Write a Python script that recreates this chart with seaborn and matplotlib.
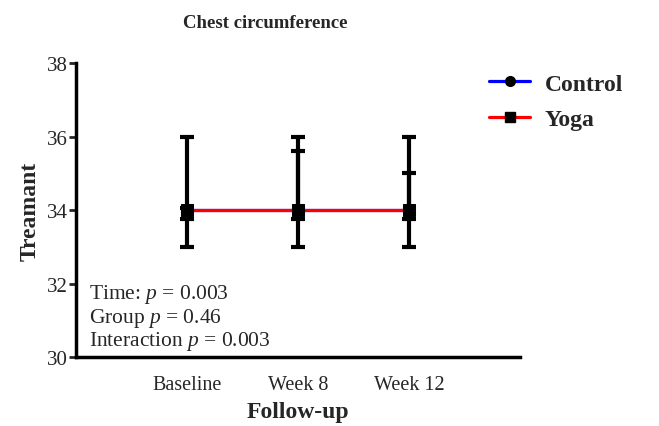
import matplotlib
matplotlib.use("Agg")
import matplotlib.pyplot as plt
import seaborn as sns
import pandas as pd
import numpy as np
from matplotlib.lines import Line2D

categories = ["Baseline", "Week 8", "Week 12"]
control_mean = [34.0, 34.0, 34.0]
control_low = [33.0, 33.0, 33.0]
control_high = [36.0, 36.0, 36.0]
yoga_mean = [34.0, 34.0, 34.0]
yoga_low = [33.75, 33.75, 33.75]
yoga_high = [34.05, 35.6, 35.0]
y_ticks = [30, 32, 34, 36, 38]
annotations = ["Time: $p$ = 0.003", "Group $p$ = 0.46", "Interaction $p$ = 0.003"]

sns.set_style("white")
plt.rcParams["font.family"] = ["Liberation Serif", "DejaVu Serif"]
plt.rcParams["mathtext.fontset"] = "custom"
plt.rcParams["mathtext.rm"] = "Liberation Serif"
plt.rcParams["mathtext.it"] = "Liberation Serif:italic"

pos = list(range(len(categories)))
df = pd.DataFrame({
    "pos": pos * 2,
    "mean": control_mean + yoga_mean,
    "group": ["Control"] * 3 + ["Yoga"] * 3,
})

fig = plt.figure(figsize=(6.59, 4.27), dpi=100)
ax = fig.add_axes([0.1153, 0.1616, 0.789 - 0.1153, 0.850 - 0.1616])

for m, lo, hi in [(control_mean, control_low, control_high), (yoga_mean, yoga_low, yoga_high)]:
    m = np.array(m); lo = np.array(lo); hi = np.array(hi)
    ax.errorbar(pos, m, yerr=[m - lo, hi - m], fmt="none", ecolor="black",
                elinewidth=3.0, capsize=5, capthick=3.0, zorder=2)

sns.lineplot(data=df, x="pos", y="mean", hue="group", style="group",
             palette={"Control": "#0000ff", "Yoga": "#ff0000"},
             markers={"Control": "o", "Yoga": "s"}, dashes=False,
             markersize=8, markerfacecolor="black", markeredgecolor="black",
             linewidth=2.3, ax=ax, zorder=3, legend=False)

ax.set_xlim(-1, 3)
ax.set_ylim(30, 38)
ax.set_xticks(pos)
ax.set_xticklabels(categories, fontsize=14.5)
ax.set_yticks(y_ticks)
ax.set_yticklabels([str(t) for t in y_ticks], fontsize=15)
ax.tick_params(axis="y", direction="out", length=5, width=2, left=True, pad=1)
ax.tick_params(axis="x", length=0, pad=13)
for s in ["top", "right"]:
    ax.spines[s].set_visible(False)
for s in ["left", "bottom"]:
    ax.spines[s].set_linewidth(2.5)
    ax.spines[s].set_color("black")

ax.set_xlabel("Follow-up", fontsize=17, fontweight="bold", labelpad=5)
ax.set_ylabel("Treamant", fontsize=17, fontweight="bold", labelpad=4)
fig.text(265 / 659, 1 - 23 / 427, "Chest circumference", fontsize=13.5,
         fontweight="bold", ha="center", va="center")

for i, t in enumerate(annotations):
    ax.text(0.03, 0.215 - i * 0.08, t, transform=ax.transAxes, fontsize=15.5,
            va="center", ha="left")

handles = [
    Line2D([], [], color="#0000ff", marker="o", markerfacecolor="black",
           markeredgecolor="black", markersize=7, linewidth=2.3),
    Line2D([], [], color="#ff0000", marker="s", markerfacecolor="black",
           markeredgecolor="black", markersize=7, linewidth=2.3),
]
fig.legend(handles, ["Control", "Yoga"], loc="upper left",
           bbox_to_anchor=(0.71, 0.876), frameon=False,
           prop={"weight": "bold", "size": 17, "family": "Liberation Serif"},
           handlelength=1.75, labelspacing=0.6, handletextpad=0.6)

fig.savefig("out.png", dpi=100)
